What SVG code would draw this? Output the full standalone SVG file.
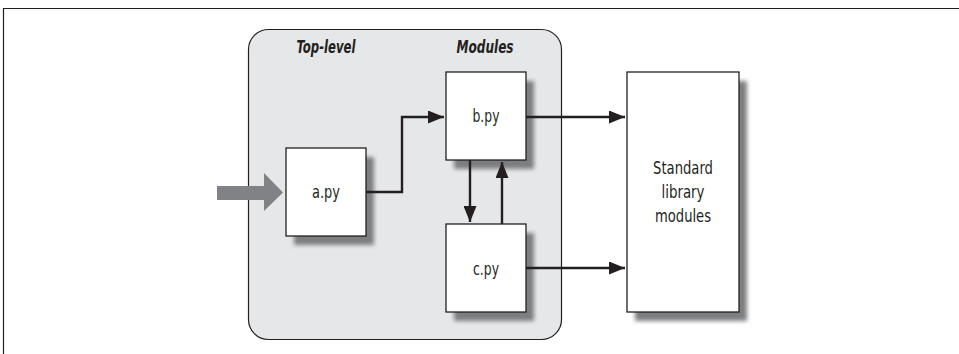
<svg xmlns="http://www.w3.org/2000/svg" width="959" height="354" viewBox="0 0 959 354">
<defs>
<marker id="ah" markerWidth="16" markerHeight="13" refX="16" refY="6.5" orient="auto" markerUnits="userSpaceOnUse">
<path d="M0,0 L16,6.5 L0,13 Z" fill="#231f20"/>
</marker>
<filter id="sh" x="-20%" y="-20%" width="140%" height="140%">
<feGaussianBlur stdDeviation="2"/>
</filter>
</defs>
<style>
.frame{fill:none;stroke:#231f20;stroke-width:1.2}
.box{fill:#ffffff;stroke:#231f20;stroke-width:1.3}
.shadow{fill:#7d7e80;filter:url(#sh)}
.lbl{font-family:"DejaVu Sans Condensed","Liberation Sans",sans-serif;font-size:17px;fill:#231f20;text-anchor:middle}
.hdr{font-family:"DejaVu Sans Condensed","Liberation Sans",sans-serif;font-size:17px;font-weight:bold;font-style:italic;fill:#231f20;text-anchor:middle}
.con{fill:none;stroke:#231f20;stroke-width:2.4}
</style>
<path class="frame" d="M3.5,354 L3.5,8.5 L959,8.5"/>
<g id="container">
<rect x="248.5" y="29.5" width="313" height="310" rx="20" ry="20" fill="#e6e7e8" stroke="#231f20" stroke-width="1.2"/>
<text class="hdr" x="326" y="53" textLength="59" lengthAdjust="spacingAndGlyphs">Top-level</text>
<text class="hdr" x="485" y="53" textLength="57" lengthAdjust="spacingAndGlyphs">Modules</text>
</g>
<g id="input-arrow">
<path d="M217,186 L264,186 L264,173 L283,192.5 L264,211 L264,200 L217,200 Z" fill="#808285"/>
</g>
<g id="a">
<rect class="shadow" x="294" y="157" width="80" height="88"/>
<rect class="box" x="286" y="148" width="80" height="88"/>
<text class="lbl" x="326" y="198" textLength="28" lengthAdjust="spacingAndGlyphs">a.py</text>
</g>
<g id="b">
<rect class="shadow" x="454" y="81" width="80" height="88"/>
<rect class="box" x="446" y="72" width="80" height="88"/>
<text class="lbl" x="486" y="122" textLength="27" lengthAdjust="spacingAndGlyphs">b.py</text>
</g>
<g id="c">
<rect class="shadow" x="454" y="233" width="80" height="88"/>
<rect class="box" x="446" y="224" width="80" height="88"/>
<text class="lbl" x="486" y="275" textLength="26" lengthAdjust="spacingAndGlyphs">c.py</text>
</g>
<g id="stdlib">
<rect class="shadow" x="635" y="81" width="112" height="240"/>
<rect class="box" x="627" y="72" width="112" height="240"/>
<text class="lbl" x="683" y="174" textLength="60" lengthAdjust="spacingAndGlyphs">Standard</text>
<text class="lbl" x="683" y="198" textLength="43" lengthAdjust="spacingAndGlyphs">library</text>
<text class="lbl" x="683" y="222" textLength="56" lengthAdjust="spacingAndGlyphs">modules</text>
</g>
<g id="connectors">
<path class="con" d="M366,192 L402,192 L402,117 L444,117" marker-end="url(#ah)"/>
<path class="con" d="M526,117 L625,117" marker-end="url(#ah)"/>
<path class="con" d="M526,268 L625,268" marker-end="url(#ah)"/>
<path class="con" d="M470,160 L470,222" marker-end="url(#ah)"/>
<path class="con" d="M502,224 L502,162" marker-end="url(#ah)"/>
</g>
</svg>
